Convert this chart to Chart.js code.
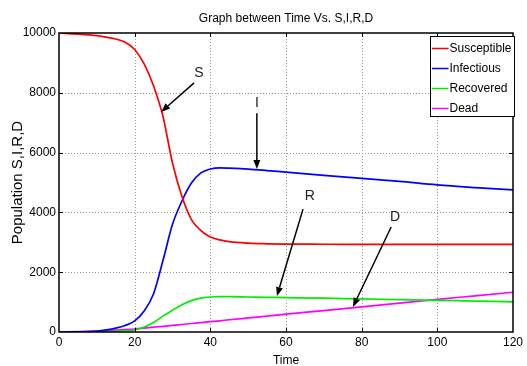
<!DOCTYPE html>
<html>
<head>
<meta charset="utf-8">
<script src="https://cdn.jsdelivr.net/npm/chart.js@4/dist/chart.umd.min.js"></script>
<style>
html, body { margin: 0; padding: 0; background: #fff; }
#sird { display: block; }
</style>
</head>
<body>
<canvas id="sird" width="527" height="366"></canvas>
<script>
// values
const time = [0, 5, 10, 12.5, 15, 17.5, 20, 22.5, 25, 27.5, 30, 32.5, 35, 37.5, 40, 42.5, 45, 50, 55, 60, 70, 80, 90, 100, 110, 120];
const susceptible = [10000, 9965, 9910, 9860, 9800, 9690, 9450, 8970, 8230, 7200, 5650, 4530, 3760, 3390, 3180, 3080, 3020, 2970, 2950, 2940, 2935, 2932, 2930, 2930, 2930, 2930];
const infectious = [0, 5, 30, 70, 130, 220, 370, 700, 1280, 2400, 3600, 4380, 4980, 5320, 5450, 5490, 5480, 5450, 5400, 5345, 5240, 5140, 5035, 4920, 4830, 4750];
const recovered = [0, 0, 5, 10, 20, 40, 67, 170, 320, 530, 730, 910, 1050, 1135, 1170, 1180, 1180, 1170, 1160, 1150, 1130, 1105, 1085, 1060, 1035, 1010];
const dead = [0, 12, 30, 45, 60, 80, 100, 130, 160, 190, 220, 250, 285, 315, 345, 375, 410, 470, 530, 595, 715, 840, 965, 1090, 1210, 1330];

const seriesNames = ['Susceptible', 'Infectious', 'Recovered', 'Dead'];
const seriesValues = [susceptible, infectious, recovered, dead];
const seriesColors = ['#ff0000', '#0000ff', '#00ee00', '#ff00ff'];

const xTicks = [0, 20, 40, 60, 80, 100, 120];
const yTicks = [0, 2000, 4000, 6000, 8000, 10000];

// arrow annotations, in data units
const noteLabels = ['S', 'I', 'R', 'D'];
const noteText = [[37.0, 8660], [52.3, 7660], [66.3, 4550], [88.8, 3850]];
const noteFrom = [[35.7, 8330], [52.3, 7320], [64.5, 4110], [87.8, 3510]];
const noteTo = [[27.0, 7360], [52.3, 5450], [57.6, 1200], [77.7, 840]];

const FONT = '"Liberation Sans", Arial, Helvetica, sans-serif';

function arrow(ctx, x1, y1, x2, y2) {
  const a = Math.atan2(y2 - y1, x2 - x1);
  const len = 9, half = 3.5;
  const bx = x2 - len * Math.cos(a), by = y2 - len * Math.sin(a);
  ctx.beginPath();
  ctx.moveTo(x1, y1);
  ctx.lineTo(bx, by);
  ctx.stroke();
  ctx.beginPath();
  ctx.moveTo(x2, y2);
  ctx.lineTo(bx + half * Math.sin(a), by - half * Math.cos(a));
  ctx.lineTo(bx - half * Math.sin(a), by + half * Math.cos(a));
  ctx.closePath();
  ctx.fill();
}

const matlabLook = {
  id: 'matlabLook',
  beforeDatasetsDraw(chart) {
    const { ctx, chartArea: ca, scales: { x, y } } = chart;
    ctx.save();
    ctx.strokeStyle = '#999';
    ctx.lineWidth = 1;
    ctx.setLineDash([1, 2]);
    xTicks.slice(1, -1).forEach(v => {
      const px = Math.round(x.getPixelForValue(v)) + 0.5;
      ctx.beginPath(); ctx.moveTo(px, ca.top); ctx.lineTo(px, ca.bottom); ctx.stroke();
    });
    yTicks.slice(1, -1).forEach(v => {
      const py = Math.round(y.getPixelForValue(v)) + 0.5;
      ctx.beginPath(); ctx.moveTo(ca.left, py); ctx.lineTo(ca.right, py); ctx.stroke();
    });
    ctx.restore();
  },
  afterDatasetsDraw(chart) {
    const { ctx, chartArea: ca, scales: { x, y } } = chart;
    ctx.save();
    // axes box + inward ticks
    ctx.strokeStyle = '#000';
    ctx.lineWidth = 1.5;
    ctx.strokeRect(ca.left, ca.top, ca.right - ca.left, ca.bottom - ca.top);
    ctx.lineWidth = 1;
    xTicks.slice(1, -1).forEach(v => {
      const px = Math.round(x.getPixelForValue(v)) + 0.5;
      ctx.beginPath();
      ctx.moveTo(px, ca.bottom); ctx.lineTo(px, ca.bottom - 4);
      ctx.moveTo(px, ca.top); ctx.lineTo(px, ca.top + 4);
      ctx.stroke();
    });
    yTicks.slice(1, -1).forEach(v => {
      const py = Math.round(y.getPixelForValue(v)) + 0.5;
      ctx.beginPath();
      ctx.moveTo(ca.left, py); ctx.lineTo(ca.left + 4, py);
      ctx.moveTo(ca.right, py); ctx.lineTo(ca.right - 4, py);
      ctx.stroke();
    });

    // annotations
    ctx.strokeStyle = '#000';
    ctx.fillStyle = '#000';
    ctx.lineWidth = 1.5;
    noteLabels.forEach((lab, i) => {
      arrow(ctx,
        x.getPixelForValue(noteFrom[i][0]), y.getPixelForValue(noteFrom[i][1]),
        x.getPixelForValue(noteTo[i][0]), y.getPixelForValue(noteTo[i][1]));
      ctx.font = '14px ' + FONT;
      ctx.fillStyle = '#222';
      ctx.textAlign = 'center';
      ctx.textBaseline = 'middle';
      ctx.fillText(lab, x.getPixelForValue(noteText[i][0]), y.getPixelForValue(noteText[i][1]));
      ctx.fillStyle = '#000';
    });

    // legend box
    const lx = 430.5, ly = 36.5, lw = 84, lh = 80;
    ctx.fillStyle = '#fff';
    ctx.fillRect(lx, ly, lw, lh);
    ctx.strokeStyle = '#000';
    ctx.lineWidth = 1;
    ctx.strokeRect(lx, ly, lw, lh);
    ctx.font = '12px ' + FONT;
    ctx.textAlign = 'left';
    ctx.textBaseline = 'middle';
    seriesNames.forEach((name, i) => {
      const ry = 48.5 + i * 20;
      ctx.strokeStyle = seriesColors[i];
      ctx.lineWidth = 1.5;
      ctx.beginPath(); ctx.moveTo(432, ry); ctx.lineTo(448.5, ry); ctx.stroke();
      ctx.fillStyle = '#000';
      ctx.fillText(name, 449.5, ry + 0.5);
    });
    ctx.restore();
  },
  afterDraw(chart) {
    const { ctx, chartArea: ca } = chart;
    const cx = (ca.left + ca.right) / 2;
    ctx.save();
    ctx.fillStyle = '#000';
    ctx.textAlign = 'center';
    ctx.textBaseline = 'alphabetic';
    ctx.font = '12px ' + FONT;
    ctx.fillText('Graph between Time Vs. S,I,R,D', cx, 21.5);
    ctx.fillText('Time', cx, 364);
    ctx.translate(21.5, (ca.top + ca.bottom) / 2);
    ctx.rotate(-Math.PI / 2);
    ctx.font = '15px ' + FONT;
    ctx.fillText('Population S,I,R,D', 0, 0);
    ctx.restore();
  }
};

new Chart(document.getElementById('sird').getContext('2d'), {
  type: 'line',
  data: {
    datasets: seriesNames.map((name, i) => ({
      label: name,
      data: time.map((t, j) => ({ x: t, y: seriesValues[i][j] })),
      borderColor: seriesColors[i],
      backgroundColor: seriesColors[i],
      borderWidth: 1.7,
      pointRadius: 0,
      cubicInterpolationMode: 'monotone',
      fill: false
    }))
  },
  options: {
    responsive: false,
    animation: false,
    devicePixelRatio: 1,
    layout: { padding: { left: 0, right: 14, top: 33, bottom: 0 } },
    plugins: { legend: { display: false }, title: { display: false }, tooltip: { enabled: false } },
    scales: {
      x: {
        type: 'linear', min: 0, max: 120,
        grid: { display: false, drawTicks: false, tickLength: 0 }, border: { display: false },
        ticks: { color: '#000', font: { family: FONT, size: 12 }, padding: 3, maxRotation: 0, autoSkip: false,
          callback: v => String(v) },
        afterBuildTicks: s => { s.ticks = xTicks.map(v => ({ value: v })); },
        afterFit: s => { s.height = 34; }
      },
      y: {
        type: 'linear', min: 0, max: 10000,
        grid: { display: false, drawTicks: false, tickLength: 0 }, border: { display: false },
        ticks: { color: '#000', font: { family: FONT, size: 12 }, padding: 3, autoSkip: false,
          callback: v => String(v) },
        afterBuildTicks: s => { s.ticks = yTicks.map(v => ({ value: v })); },
        afterFit: s => { s.width = 59; }
      }
    }
  },
  plugins: [matlabLook]
});
</script>
</body>
</html>
